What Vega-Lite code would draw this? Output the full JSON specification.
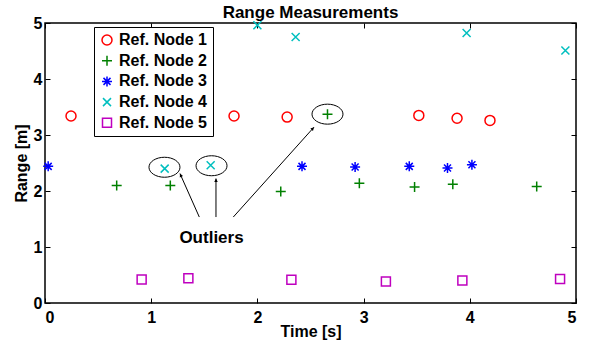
{
  "$schema": "https://vega.github.io/schema/vega-lite/v6.json",
  "width": 531,
  "height": 280,
  "autosize": {"type": "none"},
  "padding": {"left": 45, "top": 23, "right": 14, "bottom": 42},
  "background": "white",
  "title": {"text": "Range Measurements", "font": "Liberation Sans", "fontSize": 17, "fontWeight": "bold", "color": "black", "anchor": "middle", "offset": -7},
  "config": {
    "view": {"stroke": "black", "strokeWidth": 1.5},
    "axis": {"grid": false, "domain": false, "tickColor": "black", "tickWidth": 1, "tickSize": -5, "labelFont": "Liberation Sans", "labelFontWeight": "bold", "labelFontSize": 16, "labelColor": "black", "titleFont": "Liberation Sans", "titleFontWeight": "bold", "titleFontSize": 16, "titleColor": "black"}
  },
  "datasets": {
    "pts": [
      {"t": 0.245, "r": 3.34, "node": "Ref. Node 1"},
      {"t": 1.78, "r": 3.34, "node": "Ref. Node 1"},
      {"t": 2.28, "r": 3.32, "node": "Ref. Node 1"},
      {"t": 3.52, "r": 3.35, "node": "Ref. Node 1"},
      {"t": 3.88, "r": 3.30, "node": "Ref. Node 1"},
      {"t": 4.19, "r": 3.26, "node": "Ref. Node 1"},
      {"t": 0.675, "r": 2.10, "node": "Ref. Node 2"},
      {"t": 1.18, "r": 2.10, "node": "Ref. Node 2"},
      {"t": 2.22, "r": 1.99, "node": "Ref. Node 2"},
      {"t": 2.66, "r": 3.37, "node": "Ref. Node 2"},
      {"t": 2.96, "r": 2.14, "node": "Ref. Node 2"},
      {"t": 3.48, "r": 2.07, "node": "Ref. Node 2"},
      {"t": 3.84, "r": 2.12, "node": "Ref. Node 2"},
      {"t": 4.63, "r": 2.08, "node": "Ref. Node 2"},
      {"t": 0.03, "r": 2.44, "node": "Ref. Node 3"},
      {"t": 2.42, "r": 2.44, "node": "Ref. Node 3"},
      {"t": 2.92, "r": 2.43, "node": "Ref. Node 3"},
      {"t": 3.43, "r": 2.44, "node": "Ref. Node 3"},
      {"t": 3.79, "r": 2.41, "node": "Ref. Node 3"},
      {"t": 4.02, "r": 2.47, "node": "Ref. Node 3"},
      {"t": 1.127, "r": 2.40, "node": "Ref. Node 4"},
      {"t": 1.56, "r": 2.46, "node": "Ref. Node 4"},
      {"t": 2.0, "r": 4.96, "node": "Ref. Node 4"},
      {"t": 2.36, "r": 4.75, "node": "Ref. Node 4"},
      {"t": 3.97, "r": 4.82, "node": "Ref. Node 4"},
      {"t": 4.90, "r": 4.51, "node": "Ref. Node 4"},
      {"t": 0.91, "r": 0.42, "node": "Ref. Node 5"},
      {"t": 1.35, "r": 0.44, "node": "Ref. Node 5"},
      {"t": 2.32, "r": 0.415, "node": "Ref. Node 5"},
      {"t": 3.21, "r": 0.385, "node": "Ref. Node 5"},
      {"t": 3.93, "r": 0.40, "node": "Ref. Node 5"},
      {"t": 4.85, "r": 0.43, "node": "Ref. Node 5"}
    ],
    "ellipses": [
      {"t": 1.125, "r": 2.424},
      {"t": 1.568, "r": 2.451},
      {"t": 2.660, "r": 3.372}
    ],
    "arrows": [
      {"t": 1.453, "r": 1.535, "t2": 1.271, "r2": 2.311},
      {"t": 1.610, "r": 1.535, "t2": 1.610, "r2": 2.222},
      {"t": 1.773, "r": 1.535, "t2": 2.533, "r2": 3.140}
    ],
    "label": [{"t": 1.568, "r": 1.154, "text": "Outliers"}]
  },
  "resolve": {"axis": {"x": "independent", "y": "independent"}},
  "layer": [
    {
      "data": {"name": "ellipses"},
      "mark": {"type": "point", "shape": "M -1 0 A 1 0.645 0 1 0 1 0 A 1 0.645 0 1 0 -1 0 Z", "size": 961, "filled": false, "stroke": "black", "strokeWidth": 1, "opacity": 1},
      "encoding": {
        "x": {"field": "t", "type": "quantitative", "scale": {"domain": [0, 5], "nice": false}, "axis": null},
        "y": {"field": "r", "type": "quantitative", "scale": {"domain": [0, 5], "nice": false}, "axis": null}
      }
    },
    {
      "data": {"name": "arrows"},
      "mark": {"type": "rule", "color": "black", "strokeWidth": 1},
      "encoding": {
        "x": {"field": "t", "type": "quantitative", "axis": null},
        "y": {"field": "r", "type": "quantitative", "axis": null},
        "x2": {"field": "t2"},
        "y2": {"field": "r2"}
      }
    },
    {
      "data": {"name": "arrows"},
      "transform": [{"filter": "datum.t2 < 1.4"}],
      "mark": {"type": "point", "shape": "M 0 0 L -0.5 1 L 0.5 1 Z", "size": 49, "filled": true, "color": "black", "opacity": 1, "angle": 336},
      "encoding": {
        "x": {"field": "t2", "type": "quantitative", "axis": null},
        "y": {"field": "r2", "type": "quantitative", "axis": null}
      }
    },
    {
      "data": {"name": "arrows"},
      "transform": [{"filter": "datum.t2 > 1.5 && datum.t2 < 2"}],
      "mark": {"type": "point", "shape": "M 0 0 L -0.5 1 L 0.5 1 Z", "size": 49, "filled": true, "color": "black", "opacity": 1, "angle": 0},
      "encoding": {
        "x": {"field": "t2", "type": "quantitative", "axis": null},
        "y": {"field": "r2", "type": "quantitative", "axis": null}
      }
    },
    {
      "data": {"name": "arrows"},
      "transform": [{"filter": "datum.t2 > 2"}],
      "mark": {"type": "point", "shape": "M 0 0 L -0.5 1 L 0.5 1 Z", "size": 49, "filled": true, "color": "black", "opacity": 1, "angle": 42},
      "encoding": {
        "x": {"field": "t2", "type": "quantitative", "axis": null},
        "y": {"field": "r2", "type": "quantitative", "axis": null}
      }
    },
    {
      "data": {"name": "label"},
      "mark": {"type": "text", "font": "Liberation Sans", "fontSize": 17, "fontWeight": "bold", "color": "black", "align": "center", "baseline": "middle"},
      "encoding": {
        "x": {"field": "t", "type": "quantitative", "axis": null},
        "y": {"field": "r", "type": "quantitative", "axis": null},
        "text": {"field": "text"}
      }
    },
    {
      "data": {"name": "pts"},
      "mark": {"type": "point", "filled": false, "size": 100, "strokeWidth": 1.5, "opacity": 1},
      "encoding": {
        "x": {"field": "t", "type": "quantitative", "title": "Time [s]", "axis": {"orient": "bottom", "values": [0, 1, 2, 3, 4, 5], "labelPadding": 11, "titlePadding": -2}},
        "y": {"field": "r", "type": "quantitative", "title": "Range [m]", "axis": {"orient": "left", "values": [0, 1, 2, 3, 4, 5], "labelPadding": 8, "titlePadding": 4}},
        "color": {"field": "node", "type": "nominal", "scale": {"domain": ["Ref. Node 1", "Ref. Node 2", "Ref. Node 3", "Ref. Node 4", "Ref. Node 5"], "range": ["#FF0000", "#008000", "#0000FF", "#00BFBF", "#BF00BF"]},
          "legend": {"title": null, "orient": "none", "legendX": 49, "legendY": 4, "strokeColor": "black", "fillColor": "white", "padding": 5, "symbolSize": 100, "symbolStrokeWidth": 1.5, "labelFont": "Liberation Sans", "labelFontSize": 16, "labelFontWeight": "bold", "labelColor": "black", "rowPadding": 4.7, "labelOffset": 4, "cornerRadius": 0}},
        "shape": {"field": "node", "type": "nominal", "scale": {"domain": ["Ref. Node 1", "Ref. Node 2", "Ref. Node 3", "Ref. Node 4", "Ref. Node 5"], "range": ["circle", "M -1 0 L 1 0 M 0 -1 L 0 1", "M -1 0 L 1 0 M 0 -1 L 0 1 M -0.7 -0.7 L 0.7 0.7 M -0.7 0.7 L 0.7 -0.7", "M -0.8 -0.8 L 0.8 0.8 M -0.8 0.8 L 0.8 -0.8", "M -0.9 -0.9 L 0.9 -0.9 L 0.9 0.9 L -0.9 0.9 Z"]}}
      }
    },
    {
      "data": {"name": "ellipses"},
      "mark": {"type": "point", "opacity": 0},
      "encoding": {
        "x": {"field": "t", "type": "quantitative", "axis": {"orient": "top", "values": [0, 1, 2, 3, 4, 5], "labels": false, "title": null}},
        "y": {"field": "r", "type": "quantitative", "axis": {"orient": "right", "values": [0, 1, 2, 3, 4, 5], "labels": false, "title": null}}
      }
    }
  ]
}
